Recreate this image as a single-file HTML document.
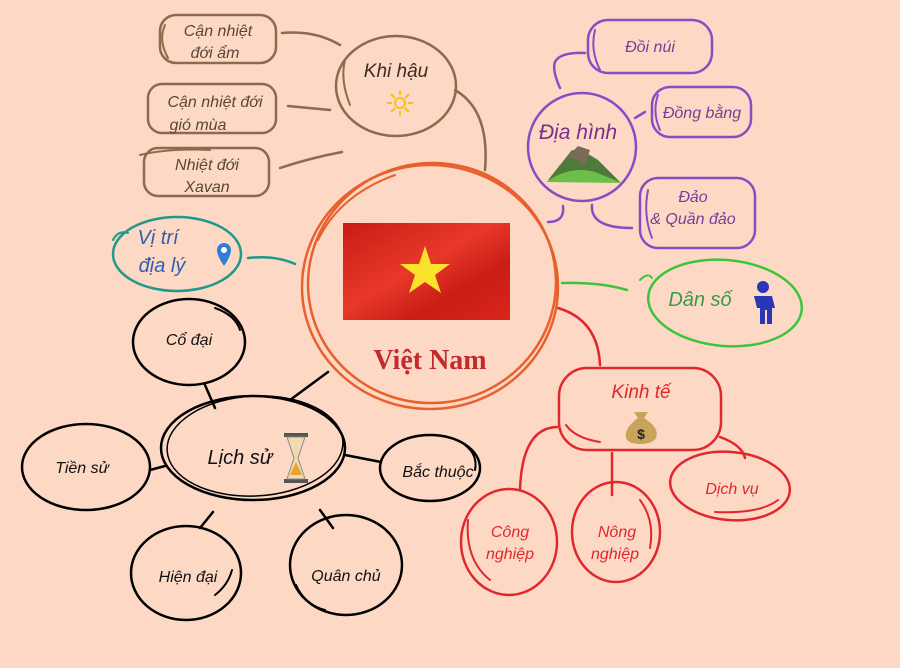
<!DOCTYPE html>
<html><head><meta charset="utf-8"><style>
html,body{margin:0;padding:0;background:#fdd9c5;}
svg{display:block}
text{font-family:"Liberation Sans","DejaVu Sans",sans-serif;font-style:italic;}
</style></head><body>
<svg width="900" height="668" viewBox="0 0 900 668" xmlns="http://www.w3.org/2000/svg">
<defs>
<linearGradient id="fl" x1="0" y1="0" x2="1" y2="1">
<stop offset="0" stop-color="#c81c14"/><stop offset="0.45" stop-color="#e8382a"/><stop offset="0.7" stop-color="#c91d16"/><stop offset="1" stop-color="#d9261b"/>
</linearGradient>
</defs>
<rect width="900" height="668" fill="#fdd9c5"/>
<g fill="none" stroke-linecap="round">
<!-- Connectors -->
<g stroke="#8b6b4e" stroke-width="2.5">
<path d="M282 33 Q315 30 340 45"/>
<path d="M288 106 L330 110"/>
<path d="M280 168 Q310 158 342 152"/>
<path d="M455 90 Q490 110 485 170"/>
</g>
<path d="M248 258 Q275 255 295 264" stroke="#1f9a8a" stroke-width="2.5"/>
<g stroke="#000" stroke-width="2.5">
<path d="M290 400 L328 372"/>
<path d="M205 385 L215 408"/>
<path d="M150 470 L165 466"/>
<path d="M200 528 L213 512"/>
<path d="M320 510 L333 528"/>
<path d="M345 455 L381 462"/>
</g>
<g stroke="#8a4cc4" stroke-width="2.5">
<path d="M560 88 Q552 70 555 62 Q560 52 585 53"/>
<path d="M563 206 Q565 222 548 222"/>
<path d="M635 118 L645 112"/>
<path d="M592 205 Q590 228 632 228"/>
</g>
<path d="M562 283 Q600 282 627 290" stroke="#3cc43c" stroke-width="2.5"/>
<g stroke="#e0282c" stroke-width="2.5">
<path d="M558 308 Q598 320 600 365"/>
<path d="M557 427 Q522 428 520 490"/>
<path d="M612 453 L612 495"/>
<path d="M720 437 Q742 445 745 458"/>
</g>

<!-- Central circle -->
<g stroke="#e8602c" stroke-width="2.5">
<ellipse cx="430" cy="287" rx="128" ry="122"/>
<ellipse cx="432" cy="283" rx="124" ry="120" transform="rotate(-6 432 283)"/>
<path d="M318 240 Q340 195 395 175" stroke-width="2"/>
</g>

<!-- Khi hậu -->
<g stroke="#8b6b4e" stroke-width="2.5">
<ellipse cx="396" cy="86" rx="60" ry="50"/>
<path d="M345 60 Q340 80 350 105" stroke-width="2"/>
<rect x="160" y="15" width="116" height="48" rx="16"/>
<path d="M165 25 Q158 40 168 58" stroke-width="2"/>
<rect x="148" y="84" width="128" height="49" rx="14"/>
<rect x="144" y="148" width="125" height="48" rx="14"/>
<path d="M140 155 Q170 148 210 150" stroke-width="2"/>
</g>

<!-- Vị trí -->
<g stroke="#1f9a8a" stroke-width="2.5">
<ellipse cx="177" cy="254" rx="64" ry="37"/>
<path d="M113 240 Q118 230 128 233" stroke-width="2"/>
</g>

<!-- Lịch sử group -->
<g stroke="#000" stroke-width="2.5">
<ellipse cx="253" cy="448" rx="92" ry="52"/>
<ellipse cx="255" cy="446" rx="88" ry="50" transform="rotate(-3 255 446)" stroke-width="1.5"/>
<ellipse cx="189" cy="342" rx="56" ry="43"/>
<path d="M215 308 Q235 315 240 330" stroke-width="2"/>
<ellipse cx="86" cy="467" rx="64" ry="43"/>
<ellipse cx="186" cy="573" rx="55" ry="47"/>
<path d="M215 595 Q228 585 232 570" stroke-width="2"/>
<ellipse cx="346" cy="565" rx="56" ry="50"/>
<path d="M296 585 Q305 605 325 610" stroke-width="2"/>
<ellipse cx="430" cy="468" rx="50" ry="33"/>
<path d="M465 445 Q478 455 475 470" stroke-width="2"/>
</g>

<!-- Địa hình -->
<g stroke="#8a4cc4" stroke-width="2.5">
<ellipse cx="582" cy="147" rx="54" ry="54"/>
<rect x="588" y="20" width="124" height="53" rx="20"/>
<path d="M595 30 Q590 50 600 70" stroke-width="2"/>
<rect x="652" y="87" width="99" height="50" rx="18"/>
<path d="M658 95 Q652 112 660 130" stroke-width="2"/>
<rect x="640" y="178" width="115" height="70" rx="18"/>
<path d="M648 190 Q643 215 652 238" stroke-width="2"/>
</g>

<!-- Dân số -->
<g stroke="#3cc43c" stroke-width="2.5">
<ellipse cx="725" cy="303" rx="77" ry="43" transform="rotate(5 725 303)"/>
<path d="M640 280 Q648 272 652 278" stroke-width="2"/>
</g>

<!-- Kinh tế -->
<g stroke="#e0282c" stroke-width="2.5">
<rect x="559" y="368" width="162" height="82" rx="28"/>
<path d="M566 425 Q575 438 600 442" stroke-width="2"/>
<ellipse cx="509" cy="542" rx="48" ry="53"/>
<path d="M468 520 Q465 560 490 580" stroke-width="2"/>
<ellipse cx="616" cy="532" rx="44" ry="50"/>
<path d="M640 500 Q655 520 650 548" stroke-width="2"/>
<ellipse cx="730" cy="486" rx="60" ry="34" transform="rotate(5 730 486)"/>
<path d="M715 512 Q760 514 778 500" stroke-width="2"/>
</g>
</g>

<!-- Flag -->
<rect x="343" y="223" width="167" height="97" fill="url(#fl)"/>
<polygon points="425,246 431,264 450,264 435,275 441,293 425,282 409,293 415,275 400,264 419,264" fill="#fbe22c"/>
<text x="430" y="369" text-anchor="middle" font-size="28" font-weight="bold" fill="#c22a2c" style="font-family:'Liberation Serif',serif;font-style:normal">Việt Nam</text>

<!-- Texts -->
<g fill="#5a4636" font-size="16">
<text x="396" y="77" text-anchor="middle" font-size="19" fill="#3d2c20">Khi hậu</text>
<text x="218" y="36" text-anchor="middle">Cận nhiệt</text>
<text x="215" y="58" text-anchor="middle">đới ẩm</text>
<text x="215" y="107" text-anchor="middle">Cận nhiệt đới</text>
<text x="198" y="130" text-anchor="middle">gió mùa</text>
<text x="207" y="170" text-anchor="middle">Nhiệt đới</text>
<text x="207" y="192" text-anchor="middle">Xavan</text>
</g>
<g fill="#f6c01a" stroke="#f6c01a" stroke-width="2">
<circle cx="400" cy="103" r="5" fill="none"/>
<path d="M400 90v5M400 111v5M387 103h5M408 103h5M391 94l4 4M405 108l4 4M391 112l4-4M405 98l4-4"/>
</g>

<text x="158" y="244" text-anchor="middle" font-size="20" fill="#2f5fb0">Vị trí</text>
<text x="162" y="272" text-anchor="middle" font-size="20" fill="#2f5fb0">địa lý</text>
<path d="M217 250 a7 7 0 0 1 14 0 q0 6 -7 16 q-7 -10 -7 -16z" fill="#2f7fd8"/>
<circle cx="224" cy="250" r="3" fill="#fff"/>

<g fill="#111" font-size="16">
<text x="240" y="464" text-anchor="middle" font-size="20">Lịch sử</text>
<text x="189" y="345" text-anchor="middle">Cổ đại</text>
<text x="82" y="473" text-anchor="middle">Tiền sử</text>
<text x="188" y="582" text-anchor="middle">Hiện đại</text>
<text x="346" y="581" text-anchor="middle">Quân chủ</text>
<text x="438" y="477" text-anchor="middle">Bắc thuộc</text>
</g>
<!-- hourglass -->
<rect x="284" y="433" width="24" height="4" fill="#555"/>
<rect x="284" y="479" width="24" height="4" fill="#555"/>
<path d="M287 437 L305 437 L298 458 L305 479 L287 479 L294 458 Z" fill="#f2d9b0" stroke="#888"/>
<path d="M290 475 L302 475 L296 462Z" fill="#e8a42a"/>

<g fill="#7a3a9a" font-size="16">
<text x="578" y="139" text-anchor="middle" font-size="21" fill="#7a2f8a">Địa hình</text>
<text x="650" y="52" text-anchor="middle">Đồi núi</text>
<text x="702" y="118" text-anchor="middle">Đồng bằng</text>
<text x="693" y="202" text-anchor="middle">Đảo</text>
<text x="693" y="224" text-anchor="middle">&amp; Quần đảo</text>
</g>
<!-- mountain -->
<path d="M548 180 L572 150 L585 152 L598 160 L620 182 Z" fill="#4f7a3a"/>
<path d="M568 156 L578 146 L590 150 L585 165Z" fill="#7a6a5a"/>
<path d="M546 182 Q570 165 595 172 Q610 178 622 183 Z" fill="#6cc04a"/>

<text x="700" y="306" text-anchor="middle" font-size="20" fill="#3a9a4a">Dân số</text>
<circle cx="763" cy="287" r="6" fill="#2a36b8"/>
<path d="M754 296 h18 l3 12 h-3 v16 h-5 v-14 h-2 v14 h-5 v-16 h-3z" fill="#2a36b8"/>

<g fill="#e0282c" font-size="16">
<text x="641" y="398" text-anchor="middle" font-size="19">Kinh tế</text>
<text x="510" y="537" text-anchor="middle">Công</text>
<text x="510" y="559" text-anchor="middle">nghiệp</text>
<text x="617" y="537" text-anchor="middle">Nông</text>
<text x="615" y="559" text-anchor="middle">nghiệp</text>
<text x="732" y="494" text-anchor="middle">Dịch vụ</text>
</g>
<!-- money bag -->
<path d="M634 412 L648 412 L644 418 Q660 428 656 438 Q652 444 641 444 Q628 444 626 438 Q624 428 638 418Z" fill="#c8a45a"/>
<text x="641" y="439" text-anchor="middle" font-size="14" font-weight="bold" fill="#222" style="font-style:normal">$</text>
</svg>
</body></html>
